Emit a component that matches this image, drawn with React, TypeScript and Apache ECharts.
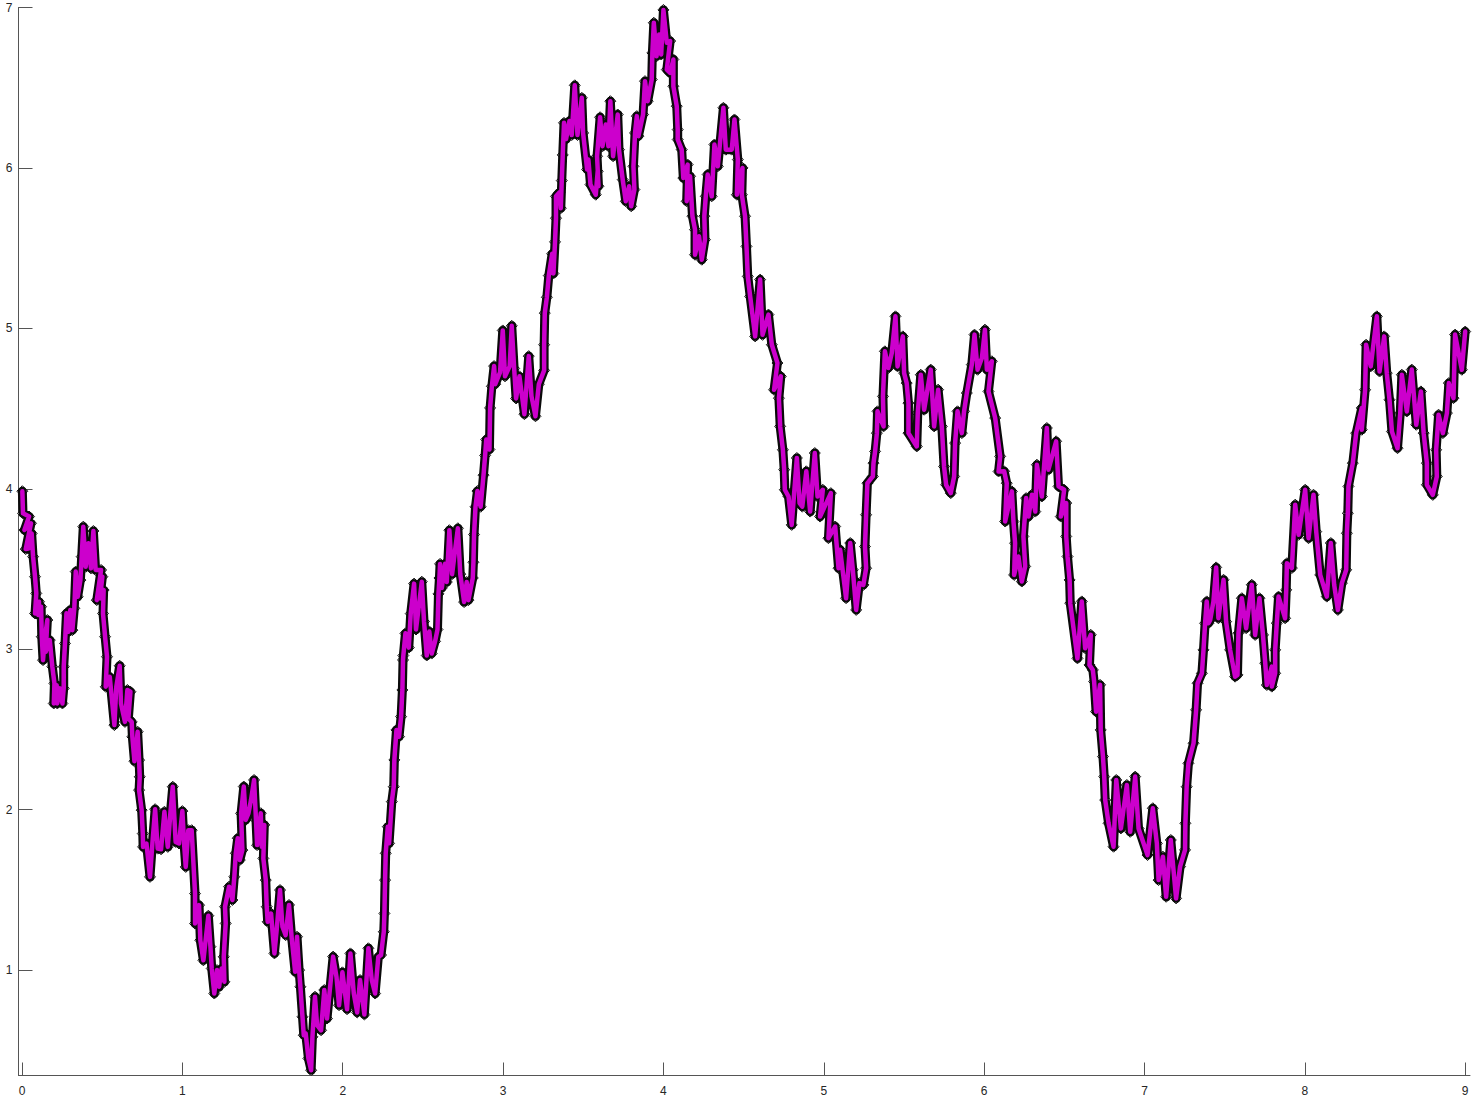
import React, { useEffect, useRef } from "react";
import * as echarts from "echarts";

type P = [number, number];

const xTicks = [0, 1, 2, 3, 4, 5, 6, 7, 8, 9];
const yTicks = [1, 2, 3, 4, 5, 6, 7];

const stretchA: P[] = [
  [.002,3.985],[.006,3.847],[.044,3.827],[.015,3.743],[.056,3.785],[.023,3.624],[.040,3.628],[.060,3.722],[.069,3.577],[.081,3.452],
  [.089,3.348],[.081,3.223],[.106,3.296],[.102,3.213],[.119,3.265],[.123,3.078],[.131,2.932],[.143,3.078],[.158,3.182],[.148,2.984],
  [.173,3.057],[.189,2.891],[.202,2.787],[.198,2.662],[.216,2.776],[.220,2.662],[.237,2.756],[.252,2.662],[.260,2.756],[.260,2.891],
  [.268,3.036],[.277,3.224],[.289,3.109],[.301,3.245],[.314,3.119],[.326,3.255],[.335,3.484],[.347,3.327],[.364,3.431],[.372,3.577],
  [.382,3.764],[.397,3.514],[.414,3.660],[.430,3.504],[.445,3.737],[.459,3.494],[.493,3.494],[.466,3.306],[.501,3.452],[.486,3.317],
  [.509,3.369],[.505,3.223],[.518,3.078],[.530,2.953],[.522,2.766],[.547,2.828],[.576,2.527],[.588,2.766],[.609,2.897],[.617,2.662],
  [.642,2.547],[.657,2.746],[.676,2.735],[.663,2.568],[.684,2.547],[.688,2.454],[.701,2.302],[.721,2.486],[.730,2.309],[.734,2.205],
  [.730,2.122],[.746,1.997],[.753,1.851],[.755,1.768],[.776,1.789],[.798,1.581],[.813,1.789],[.830,2.003],[.846,1.757],[.867,1.753],
  [.888,1.987],[.909,1.768],[.925,1.976],[.940,2.143],[.958,1.799],[.979,1.789],[1.000,1.991],[1.012,1.768],[1.021,1.643],[1.037,1.872],
  [1.058,1.872],[1.079,1.477],[1.079,1.290],[1.104,1.405],[1.112,1.186],[1.131,1.061],
];

const stretchB: P[] = [
  [1.162,1.339],[1.175,1.146],[1.183,1.010],[1.199,.854],[1.216,1.000],[1.229,.896],[1.245,1.010],[1.262,.927],[1.258,1.083],[1.270,1.291],
  [1.266,1.395],[1.291,1.520],[1.312,1.437],[1.324,1.582],[1.333,1.728],[1.345,1.822],[1.358,1.686],[1.374,1.748],[1.366,1.977],[1.383,2.144],
  [1.395,1.936],[1.412,1.977],[1.428,2.060],[1.447,2.185],[1.459,1.936],[1.466,1.779],[1.489,1.978],[1.495,1.769],[1.511,1.905],[1.505,1.696],
  [1.520,1.561],[1.526,1.395],[1.532,1.301],[1.553,1.353],[1.574,1.104],[1.588,1.249],[1.609,1.499],[1.624,1.270],[1.644,1.218],[1.665,1.406],
  [1.682,1.197],[1.703,.989],[1.715,1.208],[1.728,1.000],[1.736,.896],[1.749,.709],[1.757,.594],[1.769,.605],[1.786,.449],[1.803,.376],
  [1.811,.584],[1.827,.834],[1.840,.657],[1.865,.625],[1.885,.876],[1.902,.698],[1.940,1.084],[1.961,.958],[1.977,.781],[1.998,.986],
  [2.027,.756],[2.048,1.104],[2.069,.854],[2.090,.736],[2.108,.938],[2.135,.723],[2.160,1.136],[2.181,.938],[2.202,.854],[2.222,1.083],
  [2.239,1.094],[2.256,1.239],[2.260,1.353],[2.264,1.561],[2.268,1.728],[2.281,1.894],[2.289,1.790],[2.306,2.050],[2.318,2.143],[2.322,2.310],
  [2.335,2.497],[2.351,2.455],[2.364,2.580],[2.372,2.746],[2.376,2.933],
];

const stretchC: P[] = [
  [2.378,2.961],[2.391,3.099],[2.412,3.010],[2.424,3.222],[2.445,3.409],[2.457,3.123],[2.493,3.421],[2.507,3.173],[2.524,2.961],[2.540,3.111],
  [2.555,2.973],[2.576,3.049],[2.591,3.123],[2.597,3.345],[2.603,3.444],[2.607,3.532],[2.618,3.382],[2.638,3.532],[2.649,3.419],[2.665,3.742],
  [2.682,3.468],[2.718,3.754],[2.733,3.468],[2.757,3.294],[2.773,3.419],[2.784,3.306],[2.811,3.444],[2.815,3.542],[2.819,3.715],[2.828,3.888],
  [2.840,3.986],[2.860,3.888],[2.878,4.085],[2.888,4.208],[2.895,4.307],[2.915,4.245],[2.919,4.504],[2.930,4.639],[2.944,4.765],[2.951,4.652],
  [2.981,4.726],[2.998,4.987],[3.012,4.701],[3.041,4.763],[3.054,5.016],[3.069,4.750],[3.081,4.563],[3.102,4.701],[3.133,4.465],[3.160,4.827],
  [3.177,4.578],[3.202,4.452],[3.223,4.652],[3.256,4.738],[3.256,4.898],[3.260,5.095],[3.273,5.194],[3.285,5.329],[3.306,5.465],[3.314,5.342],
  [3.324,5.539],[3.330,5.687],[3.330,5.823],[3.351,5.847],[3.360,5.749],[3.366,5.921],[3.372,6.081],[3.380,6.281],[3.393,6.180],[3.414,6.293],
  [3.428,6.205],[3.447,6.515],[3.464,6.205],
];

const stretchD: P[] = [
  [3.491,6.437],[3.499,6.218],[3.524,5.990],[3.532,6.052],[3.545,5.896],[3.578,5.833],[3.590,5.979],[3.595,5.886],[3.586,6.073],[3.605,6.316],
  [3.620,6.135],[3.640,6.271],[3.657,6.135],[3.669,6.416],[3.686,6.073],[3.715,6.333],[3.723,6.114],[3.746,5.927],[3.765,5.792],[3.786,5.886],
  [3.799,5.761],[3.819,5.865],[3.813,6.010],[3.823,6.218],[3.834,6.323],[3.844,6.198],[3.873,6.333],[3.885,6.541],[3.902,6.416],[3.927,6.551],
  [3.931,6.717],[3.940,6.905],[3.957,6.696],[3.973,6.832],[3.986,6.707],[4.000,6.985],[4.021,6.780],[4.042,6.791],[4.021,6.613],[4.042,6.592],
  [4.062,6.676],[4.062,6.509],[4.083,6.385],[4.089,6.239],[4.089,6.177],[4.114,6.114],[4.124,5.937],[4.151,6.021],[4.145,5.792],[4.166,5.948],
  [4.181,5.699],[4.197,5.615],[4.197,5.459],[4.222,5.574],[4.239,5.428],[4.259,5.553],[4.255,5.699],[4.264,5.823],[4.276,5.959],[4.301,5.823],
  [4.318,6.146],[4.339,6.010],[4.374,6.375],[4.389,6.114],[4.426,6.114],[4.443,6.302],[4.464,6.052],[4.458,5.833],[4.493,6.000],[4.489,5.833],
  [4.509,5.699],[4.518,5.511],[4.526,5.324],[4.541,5.199],[4.572,4.950],[4.603,5.304],[4.618,4.960],[4.655,5.086],[4.676,4.898],
];

const stretchE: P[] = [
  [4.711,4.784],[4.690,4.617],[4.732,4.701],[4.720,4.565],[4.728,4.389],[4.745,4.243],[4.753,4.119],[4.757,3.994],[4.780,3.952],[4.800,3.775],
  [4.832,4.192],[4.849,3.911],[4.866,3.889],[4.891,4.109],[4.915,3.858],[4.944,4.223],[4.961,3.952],[4.994,3.994],[4.977,3.827],[5.044,3.973],
  [5.029,3.692],[5.071,3.765],[5.092,3.505],[5.102,3.620],[5.139,3.318],[5.165,3.662],[5.181,3.495],[5.202,3.245],[5.222,3.412],[5.247,3.401],
  [5.264,3.505],[5.257,3.640],[5.264,3.838],[5.272,4.035],[5.306,4.077],[5.310,4.160],[5.320,4.233],[5.331,4.347],[5.335,4.483],[5.373,4.389],
  [5.369,4.576],[5.381,4.857],[5.403,4.753],[5.424,4.847],[5.447,5.075],[5.460,4.763],[5.493,4.950],[5.501,4.721],[5.517,4.659],[5.528,4.534],
  [5.528,4.347],[5.580,4.264],[5.586,4.472],[5.605,4.711],[5.626,4.493],[5.667,4.743],[5.688,4.389],[5.713,4.618],[5.736,4.389],[5.750,4.139],
  [5.763,4.025],[5.792,3.973],[5.813,4.077],[5.819,4.285],[5.834,4.483],[5.861,4.347],[5.875,4.483],[5.892,4.597],[5.923,4.774],[5.940,4.961],
  [5.959,4.742],[5.986,4.815],[6.005,4.992],[6.017,4.742],[6.048,4.795],[6.027,4.607],
];

const stretchF: P[] = [
  [6.069,4.441],[6.100,4.202],[6.090,4.108],[6.125,4.109],[6.141,4.035],[6.131,3.796],[6.173,3.984],[6.183,3.796],[6.193,3.661],[6.187,3.463],
  [6.214,3.578],[6.235,3.422],[6.256,3.516],[6.245,3.703],[6.262,3.942],[6.277,3.827],[6.298,3.963],[6.319,3.858],[6.329,4.150],[6.360,3.952],
  [6.391,4.379],[6.401,4.119],[6.449,4.296],[6.464,4.015],[6.499,3.994],[6.478,3.827],[6.512,3.911],[6.512,3.703],[6.520,3.578],[6.533,3.432],
  [6.537,3.287],[6.582,2.943],[6.609,3.298],[6.630,3.006],[6.665,3.090],[6.657,2.902],[6.678,2.871],[6.686,2.798],[6.698,2.611],[6.723,2.778],
  [6.727,2.497],[6.741,2.331],[6.749,2.206],[6.755,2.060],[6.776,1.915],[6.807,1.769],[6.824,2.185],[6.853,1.883],[6.890,2.154],[6.911,1.862],
  [6.942,2.206],[6.963,1.883],[7.019,1.717],[7.052,2.009],[7.077,1.790],[7.088,1.561],[7.115,1.707],[7.135,1.457],[7.164,1.811],[7.197,1.447],
  [7.222,1.645],[7.253,1.749],[7.255,1.915],[7.263,2.143],[7.274,2.289],[7.306,2.414],[7.322,2.622],[7.331,2.788],[7.358,2.850],[7.368,2.996],
  [7.378,3.162],[7.388,3.298],[7.399,3.162],
];

const stretchG: P[] = [
  [7.410,3.183],[7.430,3.298],[7.447,3.510],[7.461,3.193],[7.493,3.433],[7.509,3.172],[7.534,2.996],[7.565,2.829],[7.580,2.840],[7.586,3.100],
  [7.607,3.318],[7.634,3.131],[7.669,3.402],[7.690,3.089],[7.717,3.318],[7.739,3.089],[7.753,2.913],[7.763,2.777],[7.794,2.892],[7.794,2.767],
  [7.815,2.850],[7.815,2.996],[7.825,3.162],[7.836,3.328],[7.877,3.193],[7.884,3.370],[7.888,3.536],[7.919,3.506],[7.940,3.901],[7.961,3.713],
  [8.002,3.994],[8.023,3.692],[8.054,3.963],[8.071,3.733],[8.096,3.463],[8.137,3.328],[8.162,3.662],[8.183,3.401],[8.206,3.245],[8.231,3.412],
  [8.258,3.495],[8.262,3.723],[8.268,3.848],[8.272,4.015],[8.299,4.160],[8.320,4.347],[8.355,4.504],[8.355,4.368],[8.376,4.617],[8.382,4.898],
  [8.411,4.763],[8.449,5.075],[8.466,4.731],[8.495,4.950],[8.511,4.721],[8.528,4.555],[8.543,4.357],[8.578,4.253],[8.595,4.472],[8.605,4.711],
  [8.636,4.482],[8.667,4.743],[8.695,4.399],[8.724,4.607],[8.741,4.347],[8.761,4.160],[8.761,4.025],[8.798,3.962],[8.823,4.077],[8.819,4.243],
  [8.834,4.462],[8.861,4.347],[8.886,4.472],[8.898,4.659],[8.927,4.565],[8.937,4.961],[8.979,4.742],[9.000,4.980],
];

const curve: P[] = [...stretchA, ...stretchB, ...stretchC, ...stretchD, ...stretchE, ...stretchF, ...stretchG];

export default function App() {
  const ref = useRef<HTMLDivElement>(null);
  useEffect(() => {
    const chart = echarts.init(ref.current!, undefined, { renderer: "svg" });
    const axisColor = "#555555";
    const labelColor = "#262626";
    chart.setOption({
      animation: false,
      backgroundColor: "#ffffff",
      grid: { left: 18.5, top: 7.5, width: 1451.5, height: 1068, containLabel: false },
      xAxis: {
        type: "value",
        min: -0.022,
        max: 9.03,
        splitLine: { show: false },
        axisLine: { show: true, onZero: false, lineStyle: { color: axisColor, width: 1 } },
        axisTick: { show: true, inside: true, length: 13, customValues: xTicks, lineStyle: { color: axisColor, width: 1 } },
        axisLabel: { show: true, customValues: xTicks, margin: 9, fontSize: 12, fontFamily: "Liberation Sans", color: labelColor, formatter: (v: number) => String(v) },
      },
      yAxis: {
        type: "value",
        min: 0.343,
        max: 7,
        splitLine: { show: false },
        axisLine: { show: true, onZero: false, lineStyle: { color: axisColor, width: 1 } },
        axisTick: { show: true, inside: true, length: 14, customValues: yTicks, lineStyle: { color: axisColor, width: 1 } },
        axisLabel: { show: true, customValues: yTicks, margin: 6, fontSize: 12, fontFamily: "Liberation Sans", color: labelColor, formatter: (v: number) => String(v) },
      },
      series: [
        {
          type: "line",
          data: curve,
          z: 2,
          clip: false,
          showSymbol: true,
          showAllSymbol: true,
          symbol: "diamond",
          symbolSize: 11,
          itemStyle: { color: "#ffffff", borderColor: "#111111", borderWidth: 1 },
          lineStyle: { width: 0, opacity: 0 },
          silent: true,
        },
        {
          type: "line",
          data: curve,
          z: 3,
          clip: false,
          showSymbol: false,
          lineStyle: { color: "#0a0a0a", width: 9, join: "round", cap: "round" },
          silent: true,
        },
        {
          type: "line",
          data: curve,
          z: 4,
          clip: false,
          showSymbol: false,
          lineStyle: { color: "#cc00cc", width: 4.5, join: "round", cap: "round" },
          silent: true,
        },
      ],
    });
    return () => chart.dispose();
  }, []);
  return <div ref={ref} style={{ position: "fixed", left: 0, top: 0, width: 1475, height: 1098 }} />;
}
